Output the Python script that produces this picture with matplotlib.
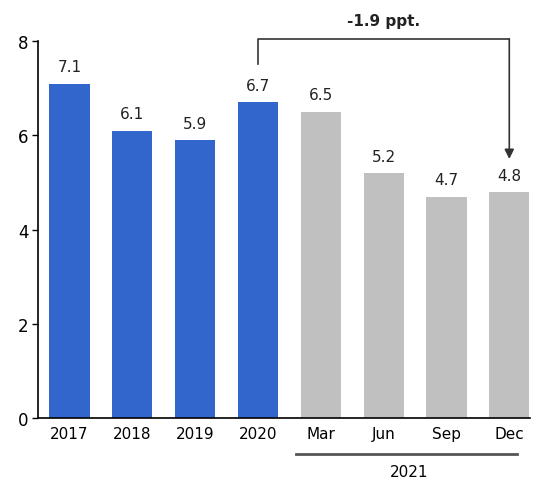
import matplotlib
matplotlib.use('Agg')
import matplotlib.pyplot as plt

labels = ['2017', '2018', '2019', '2020', 'Mar', 'Jun', 'Sep', 'Dec']
values = [7.1, 6.1, 5.9, 6.7, 6.5, 5.2, 4.7, 4.8]
colors = ['#3366CC'] * 4 + ['#C0C0C0'] * 4

plt.rcParams['font.family'] = 'DejaVu Sans'

fig = plt.figure(figsize=(5.37, 4.85), dpi=100)
ax = fig.add_axes([0.071, 0.136, 0.916, 0.777])

x = list(range(len(labels)))
ax.bar(x, values, width=0.64, color=colors)
for xi, v in zip(x, values):
    ax.text(xi, v + 0.2, f'{v:.1f}', ha='center', va='bottom', fontsize=11, color='#222222')

ax.set_xlim(-0.5, 7.33)
ax.set_ylim(0, 8)
ax.set_yticks([0, 2, 4, 6, 8])
ax.set_xticks(x)
ax.set_xticklabels(labels)
ax.tick_params(axis='x', length=0, pad=6, labelsize=11)
ax.tick_params(axis='y', length=4, width=1, pad=3, labelsize=12)
for s in ['top', 'right']:
    ax.spines[s].set_visible(False)
ax.spines['left'].set_linewidth(1.2)
ax.spines['bottom'].set_linewidth(1.2)

# bracket showing change from 2020 to Dec 2021
y_top = 8.05
ax.plot([3, 3, 7], [7.52, y_top, y_top], color='#333333', lw=1.2, clip_on=False)
ax.annotate('', xy=(7, 5.5), xytext=(7, y_top),
            arrowprops=dict(arrowstyle='-|>', color='#333333', lw=1.2,
                            shrinkA=0, shrinkB=0, mutation_scale=14),
            annotation_clip=False)
ax.text(5.0, 8.43, '-1.9 ppt.', ha='center', va='center', fontsize=11,
        fontweight='bold', color='#222222', clip_on=False)

# 2021 group label
trans = ax.get_xaxis_transform()
ax.plot([3.6, 7.12], [-0.095, -0.095], transform=trans, color='#555555', lw=2,
        clip_on=False)
ax.text(5.4, -0.142, '2021', transform=trans, ha='center', va='center', fontsize=11)

fig.savefig('out.png', dpi=100)
